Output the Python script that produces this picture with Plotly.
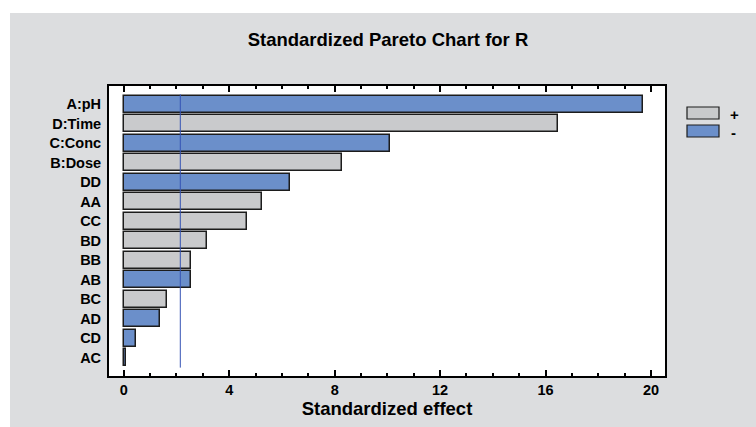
import plotly.graph_objects as go

factors = ["A:pH", "D:Time", "C:Conc", "B:Dose", "DD", "AA", "CC", "BD", "BB", "AB", "BC", "AD", "CD", "AC"]
effects = [19.70, 16.46, 10.11, 8.27, 6.30, 5.23, 4.69, 3.16, 2.54, 2.54, 1.64, 1.37, 0.47, 0.08]
signs = ["-", "+", "-", "+", "-", "+", "+", "+", "+", "-", "+", "-", "-", "-"]
critical_value = 2.145
x_ticks = [0, 4, 8, 12, 16, 20]

BLUE = "#6b8fca"
GRAY = "#c9cacc"
BG = "#dcdddf"
FONT = "Liberation Sans, Arial, sans-serif"

colors = [BLUE if s == "-" else GRAY for s in signs]
ypos = list(range(len(factors)))

fig = go.Figure()
fig.add_trace(go.Bar(
    x=effects, y=ypos, orientation="h", width=0.86,
    marker=dict(color=colors, line=dict(color="#1c1c1c", width=1.5)),
    showlegend=False, hoverinfo="x+text", text=factors, textposition="none",
))
fig.add_trace(go.Scatter(
    x=[critical_value, critical_value], y=[-0.5, 13.5], mode="lines",
    line=dict(color="#3553b5", width=1), showlegend=False, hoverinfo="skip",
))

W, H = 756, 427
L, R, T, B = 109, 91, 86, 51
pw, ph = W - L - R, H - T - B

def px(x):
    return (x - L) / pw

def py(y):
    return (H - B - y) / ph

shapes = [
    # white strips outside the gray panel
    dict(type="rect", xref="paper", yref="paper", x0=px(0), x1=px(W), y0=py(13), y1=py(-5),
         fillcolor="white", line_width=0, layer="below"),
    dict(type="rect", xref="paper", yref="paper", x0=px(-5), x1=px(10), y0=py(H + 5), y1=py(-5),
         fillcolor="white", line_width=0, layer="below"),
    # legend boxes
    dict(type="rect", xref="paper", yref="paper", x0=px(687), x1=px(719), y0=py(119), y1=py(107),
         fillcolor=GRAY, line=dict(color="#1c1c1c", width=1.2)),
    dict(type="rect", xref="paper", yref="paper", x0=px(687), x1=px(719), y0=py(137), y1=py(125),
         fillcolor=BLUE, line=dict(color="#1c1c1c", width=1.2)),
]
annotations = [
    dict(text="+", xref="paper", yref="paper", x=px(728), y=py(114), xanchor="left", yanchor="middle",
         showarrow=False, font=dict(family=FONT, size=15, color="black", weight="bold")),
    dict(text="-", xref="paper", yref="paper", x=px(729), y=py(132), xanchor="left", yanchor="middle",
         showarrow=False, font=dict(family=FONT, size=15, color="black", weight="bold")),
]

fig.update_layout(
    width=W, height=H,
    margin=dict(l=L, r=R, t=T, b=B, pad=0),
    paper_bgcolor=BG, plot_bgcolor="white",
    font=dict(family=FONT, color="black", size=14, weight="bold"),
    title=dict(text="Standardized Pareto Chart for R", x=px(388), xref="paper", xanchor="center",
               y=1 - 40 / H, yref="container", yanchor="middle",
               font=dict(family=FONT, size=18.5, color="black", weight="bold")),
    shapes=shapes, annotations=annotations,
    bargap=0,
)
fig.update_xaxes(
    range=[-0.56, 20.53], tickvals=x_ticks, ticktext=[str(v) for v in x_ticks],
    showgrid=False, zeroline=False,
    showline=True, linecolor="black", linewidth=2, mirror="ticks",
    ticks="inside", ticklen=6, tickwidth=2, tickcolor="black",
    minor=dict(dtick=1, tick0=0, ticks="inside", ticklen=3, tickwidth=1.5, tickcolor="black", showgrid=False),
    tickfont=dict(family=FONT, size=14.5, color="black", weight="bold"),
    title=dict(text="Standardized effect", standoff=3,
               font=dict(family=FONT, size=18.5, color="black", weight="bold")),
)
fig.update_yaxes(
    range=[13.93, -0.93], tickvals=ypos, ticktext=factors,
    showgrid=False, zeroline=False,
    showline=True, linecolor="black", linewidth=2, mirror=True,
    ticks="", ticklabelstandoff=3,
    tickfont=dict(family=FONT, size=14.5, color="black", weight="bold"),
)

fig.write_html("out.html")
